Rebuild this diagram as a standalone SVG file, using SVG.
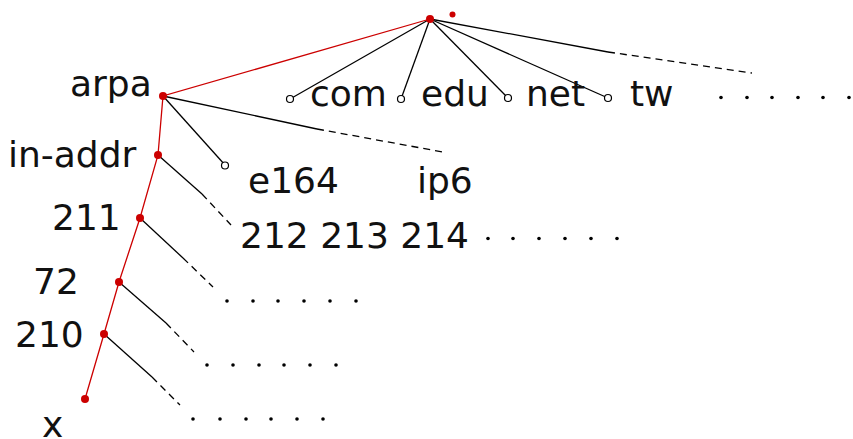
<svg xmlns="http://www.w3.org/2000/svg" width="853" height="439" viewBox="0 0 853 439">
  <style>
    text { font-family: "DejaVu Sans", "Liberation Sans", sans-serif; font-size: 36px; fill: #111; }
    .edge { stroke: #000; stroke-width: 1.3; fill: none; }
    .dash { stroke: #000; stroke-width: 1.3; fill: none; stroke-dasharray: 7 5; }
    .path { stroke: #cc0000; stroke-width: 1.3; fill: none; }
    .hit { fill: #cc0000; }
    .leaf { fill: #fff; stroke: #000; stroke-width: 1.2; }
    .more { fill: #000; }
  </style>

  <!-- connectors -->
  <g id="connectors">
    <!-- lookup path through the reverse tree -->
    <polyline class="path" points="430,19 163,96 158,155 140,218 119,282 104,334 85,399"/>
    <!-- root children -->
    <line class="edge" x1="430" y1="19" x2="290" y2="99"/>
    <line class="edge" x1="430" y1="19" x2="401" y2="99"/>
    <line class="edge" x1="430" y1="19" x2="508" y2="98"/>
    <line class="edge" x1="430" y1="19" x2="608" y2="98"/>
    <line class="edge" x1="430" y1="19" x2="608" y2="52"/>
    <line class="dash" x1="608" y1="52" x2="752" y2="73"/>
    <!-- arpa children -->
    <line class="edge" x1="163" y1="96" x2="225" y2="165"/>
    <line class="edge" x1="163" y1="96" x2="317" y2="129"/>
    <line class="dash" x1="317" y1="129" x2="443" y2="152"/>
    <!-- sibling ranges -->
    <line class="edge" x1="158" y1="155" x2="202" y2="194"/>
    <line class="dash" x1="202" y1="194" x2="231" y2="225"/>
    <line class="edge" x1="140" y1="218" x2="183" y2="258"/>
    <line class="dash" x1="183" y1="258" x2="213" y2="287"/>
    <line class="edge" x1="119" y1="282" x2="166" y2="323"/>
    <line class="dash" x1="166" y1="323" x2="194" y2="352"/>
    <line class="edge" x1="104" y1="334" x2="152" y2="377"/>
    <line class="dash" x1="152" y1="377" x2="180" y2="405"/>
  </g>

  <!-- root -->
  <g id="root">
    <circle class="hit" cx="430" cy="19" r="4"/>
    <circle class="hit" cx="452.5" cy="14.5" r="3"/>
  </g>

  <g id="com">
    <circle class="leaf" cx="290" cy="99" r="3.5"/>
    <text x="310" y="106">com</text>
  </g>
  <g id="edu">
    <circle class="leaf" cx="401" cy="99" r="3.5"/>
    <text x="421" y="106">edu</text>
  </g>
  <g id="net">
    <circle class="leaf" cx="508" cy="98" r="3.5"/>
    <text x="526" y="106">net</text>
  </g>
  <g id="tw">
    <circle class="leaf" cx="608" cy="98" r="3.5"/>
    <text x="630" y="106">tw</text>
  </g>
  <g id="tld-more" class="more">
    <circle cx="721" cy="97.5" r="1.8"/>
    <circle cx="747" cy="97.5" r="1.8"/>
    <circle cx="772" cy="97.5" r="1.8"/>
    <circle cx="798" cy="97.5" r="1.8"/>
    <circle cx="823" cy="97.5" r="1.8"/>
    <circle cx="849" cy="97.5" r="1.8"/>
  </g>

  <g id="arpa">
    <circle class="hit" cx="163" cy="96" r="4"/>
    <text x="70" y="96">arpa</text>
  </g>
  <g id="e164">
    <circle class="leaf" cx="225" cy="165.5" r="3.5"/>
    <text x="248" y="193">e164</text>
  </g>
  <g id="ip6">
    <text x="417" y="193">ip6</text>
  </g>

  <g id="in-addr">
    <circle class="hit" cx="158" cy="155" r="4"/>
    <text x="8" y="167">in-addr</text>
  </g>
  <g id="octets-1">
    <text x="240" y="248">212 213 214</text>
    <g class="more">
      <circle cx="488" cy="238.5" r="1.8"/>
      <circle cx="513" cy="238.5" r="1.8"/>
      <circle cx="539" cy="238.5" r="1.8"/>
      <circle cx="565" cy="238.5" r="1.8"/>
      <circle cx="591" cy="238.5" r="1.8"/>
      <circle cx="617" cy="238.5" r="1.8"/>
    </g>
  </g>

  <g id="n211">
    <circle class="hit" cx="140" cy="218" r="4"/>
    <text x="52" y="230">211</text>
  </g>
  <g id="octets-2" class="more">
    <circle cx="227" cy="301" r="1.8"/>
    <circle cx="253" cy="301" r="1.8"/>
    <circle cx="278" cy="301" r="1.8"/>
    <circle cx="304" cy="301" r="1.8"/>
    <circle cx="330" cy="301" r="1.8"/>
    <circle cx="356" cy="301" r="1.8"/>
  </g>

  <g id="n72">
    <circle class="hit" cx="119" cy="282" r="4"/>
    <text x="33" y="294">72</text>
  </g>
  <g id="octets-3" class="more">
    <circle cx="207" cy="365" r="1.8"/>
    <circle cx="233" cy="365" r="1.8"/>
    <circle cx="259" cy="365" r="1.8"/>
    <circle cx="284" cy="365" r="1.8"/>
    <circle cx="310" cy="365" r="1.8"/>
    <circle cx="336" cy="365" r="1.8"/>
  </g>

  <g id="n210">
    <circle class="hit" cx="104" cy="334" r="4"/>
    <text x="15" y="347">210</text>
  </g>
  <g id="octets-4" class="more">
    <circle cx="193" cy="419" r="1.8"/>
    <circle cx="220" cy="419" r="1.8"/>
    <circle cx="246" cy="419" r="1.8"/>
    <circle cx="271" cy="419" r="1.8"/>
    <circle cx="297" cy="419" r="1.8"/>
    <circle cx="323" cy="419" r="1.8"/>
  </g>

  <g id="x">
    <circle class="hit" cx="85" cy="399" r="4"/>
    <text x="42" y="437">x</text>
  </g>
</svg>
